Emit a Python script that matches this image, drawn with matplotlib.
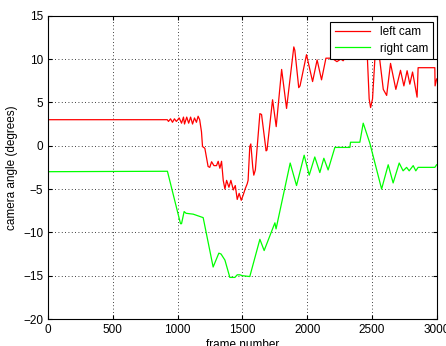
import numpy as np
import matplotlib
matplotlib.use('Agg')
import matplotlib.pyplot as plt

# left camera angle (frame, degrees)
left_frames = [0, 920, 929, 945, 960, 975, 990, 1012, 1030, 1045, 1053, 1070, 1085, 1100,
               1115, 1130, 1145, 1158, 1170, 1184, 1192, 1210, 1235, 1248, 1262, 1280, 1300,
               1313, 1326, 1339, 1352, 1365, 1378, 1396, 1411, 1430, 1445, 1460, 1475, 1491,
               1506, 1521, 1537, 1544, 1557, 1565, 1580, 1588, 1600, 1635, 1648, 1683, 1690,
               1733, 1761, 1803, 1841, 1897, 1905, 1935, 1945, 1995, 2042, 2077, 2111, 2145,
               2175, 2201, 2230, 2260, 2278, 2300, 2340, 2380, 2420, 2455, 2465, 2479, 2490,
               2505, 2523, 2540, 2560, 2588, 2614, 2644, 2685, 2721, 2747, 2772, 2793, 2814,
               2830, 2849, 2857, 2986, 2988, 3000]
left_angle = [3.0, 3.0, 2.8, 3.1, 2.7, 3.1, 2.8, 3.2, 2.6, 3.3, 2.5, 3.3, 2.6, 3.3,
              2.5, 3.2, 2.7, 3.4, 3.0, 1.6, -0.1, -0.3, -2.4, -2.5, -1.85, -2.3, -2.3,
              -1.8, -2.6, -1.8, -4.0, -5.0, -4.0, -4.8, -4.0, -5.1, -4.6, -6.2, -5.5, -6.3,
              -5.7, -5.0, -4.4, -4.0, -0.1, 0.2, -2.5, -3.4, -2.8, 3.7, 3.6, -0.6, -0.5,
              5.3, 2.2, 8.8, 4.3, 11.4, 11.0, 6.7, 6.9, 10.5, 7.4, 9.9, 7.6, 10.1,
              10.1, 10.0, 9.7, 10.0, 9.8, 10.3, 11.0, 10.5, 11.5, 10.5, 10.2, 5.4, 4.4,
              5.4, 10.0, 11.0, 10.0, 6.5, 5.8, 9.5, 6.5, 8.7, 6.9, 8.65, 7.1, 8.5,
              7.2, 5.6, 9.0, 9.0, 6.9, 7.7]

# right camera angle (frame, degrees)
right_frames = [0, 921, 1022, 1030, 1050, 1065, 1120, 1197, 1274, 1318, 1335, 1365, 1403,
                1442, 1460, 1480, 1500, 1557, 1635, 1668, 1751, 1760, 1869, 1918, 1977,
                2016, 2059, 2098, 2129, 2162, 2214, 2330, 2335, 2407, 2433, 2484, 2575,
                2626, 2664, 2711, 2741, 2768, 2788, 2819, 2839, 2857, 2986, 3000]
right_angle = [-3.0, -2.95, -9.0, -9.0, -7.6, -7.8, -7.9, -8.3, -14.0, -12.4, -12.5, -13.2, -15.2,
               -15.2, -14.9, -14.9, -15.0, -15.1, -10.8, -12.1, -8.9, -9.6, -2.0, -4.6, -1.1,
               -3.4, -1.3, -3.1, -1.45, -2.8, -0.2, -0.2, 0.4, 0.4, 2.6, 0.3, -5.0,
               -2.2, -4.3, -2.0, -2.9, -2.5, -2.9, -2.3, -2.9, -2.5, -2.5, -2.2]

plt.rcParams['font.family'] = ['Liberation Sans', 'DejaVu Sans']

fig = plt.figure(figsize=(4.46, 3.46), dpi=100)
ax = fig.add_axes([0.108, 0.078, 0.871, 0.8766])

ax.plot(left_frames, left_angle, color='#ff0000', lw=0.9, label='left cam')
ax.plot(right_frames, right_angle, color='#00ff00', lw=0.9, label='right cam')

ax.set_xlim(0, 3000)
ax.set_ylim(-20, 15)
ax.set_xticks(np.arange(0, 3001, 500))
ax.set_yticks(np.arange(-20, 16, 5))
ax.grid(True, color='black', linestyle=(0, (1, 3)), linewidth=0.6)
ax.tick_params(direction='in', top=True, right=True, labelsize=8.5, length=3)
for s in ax.spines.values():
    s.set_linewidth(0.8)

ax.set_xlabel('frame number', fontsize=8.5, labelpad=2)
ax.set_ylabel('camera angle (degrees)', fontsize=8.5, labelpad=4)

leg = ax.legend(loc='upper right', bbox_to_anchor=(0.99, 0.98), fontsize=8.5,
                fancybox=False, framealpha=1, edgecolor='black', borderaxespad=0,
                handlelength=3.0, borderpad=0.4, labelspacing=0.35)
leg.get_frame().set_linewidth(0.8)

plt.savefig('out.png', dpi=100)
